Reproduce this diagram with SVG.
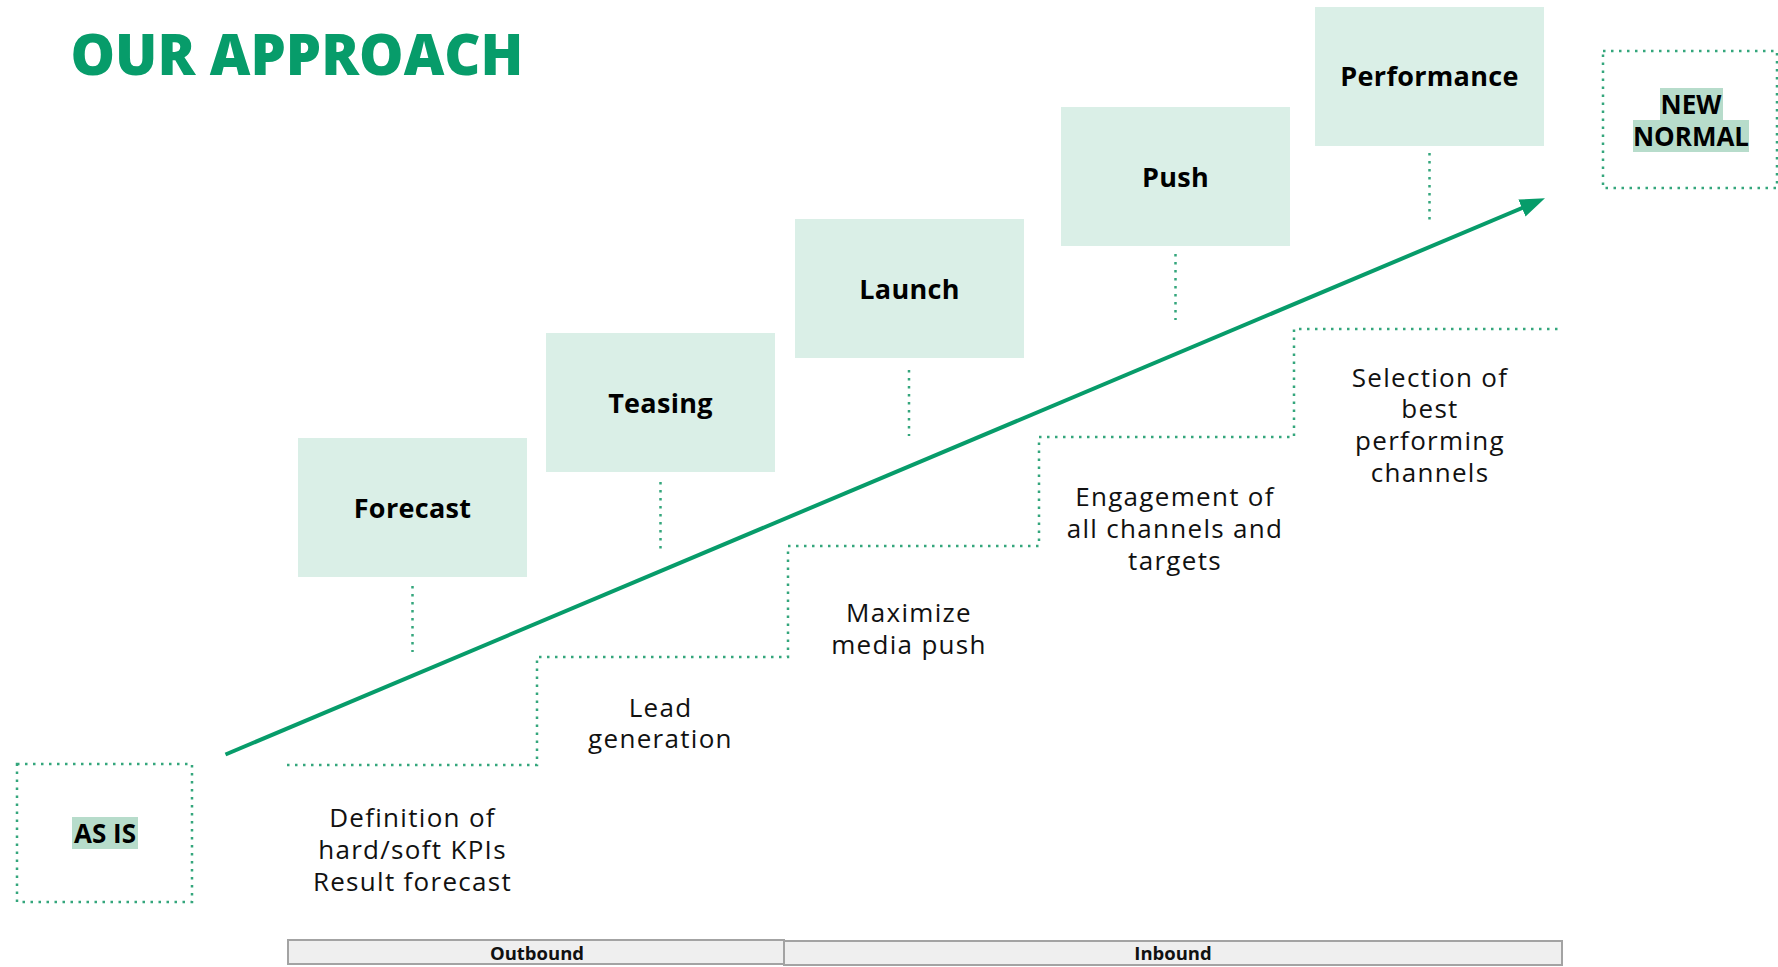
<svg xmlns="http://www.w3.org/2000/svg" width="1778" height="967" viewBox="0 0 1778 967">
  <style>
    .title { font-family: "Open Sans", "Liberation Sans", sans-serif; font-weight: 800; font-size: 57px; fill: #079c6a; }
    .stage { fill: #daefe7; }
    .stage-label { font-family: "Open Sans", "Liberation Sans", sans-serif; font-weight: 700; font-size: 27px; letter-spacing: 0.3px; fill: #000; text-anchor: middle; }
    .desc { font-family: "Open Sans", "Liberation Sans", sans-serif; font-weight: 400; font-size: 26px; letter-spacing: 1.3px; fill: #111; text-anchor: middle; }
    .dots { fill: none; stroke: #34a67c; stroke-width: 2.5; stroke-dasharray: 2.5 5.5; }
    .hl { fill: #b7dccb; }
    .state-label { font-family: "Open Sans", "Liberation Sans", sans-serif; font-weight: 700; font-size: 26px; fill: #000; text-anchor: middle; }
    .bar { fill: #efefef; stroke: #a3a3a3; stroke-width: 2; }
    .bar-label { font-family: "Open Sans", "Liberation Sans", sans-serif; font-weight: 700; font-size: 18.5px; fill: #111; text-anchor: middle; }
    .growth { stroke: #079c6a; stroke-width: 4; fill: none; }
  </style>
  <defs>
    <marker id="arrowhead" markerUnits="userSpaceOnUse" markerWidth="26" markerHeight="20" refX="13" refY="9.25" orient="auto">
      <path d="M0,0 L25,9.25 L0,18.5 z" fill="#079c6a"/>
    </marker>
  </defs>

  <rect width="1778" height="967" fill="#fff"/>

  <text class="title" x="70.5" y="75" textLength="453" lengthAdjust="spacingAndGlyphs">OUR APPROACH</text>

  <!-- start and end states -->
  <g id="as-is">
    <rect class="dots" x="17" y="764" width="175" height="138"/>
    <rect class="hl" x="72" y="817" width="66" height="32"/>
    <text class="state-label" x="105" y="843">AS IS</text>
  </g>
  <g id="new-normal">
    <rect class="dots" x="1603" y="51" width="174" height="137"/>
    <rect class="hl" x="1660" y="88" width="63" height="32"/>
    <rect class="hl" x="1633" y="120" width="116" height="32"/>
    <text class="state-label" x="1691" y="113.5">NEW</text>
    <text class="state-label" x="1691" y="145.5">NORMAL</text>
  </g>

  <!-- stages -->
  <g id="forecast">
    <rect class="stage" x="298" y="438" width="229" height="139"/>
    <text class="stage-label" x="412.5" y="517.5">Forecast</text>
    <text class="desc" x="412.5" y="827">Definition of</text>
    <text class="desc" x="412.5" y="859">hard/soft KPIs</text>
    <text class="desc" x="412.5" y="891">Result forecast</text>
  </g>
  <g id="teasing">
    <rect class="stage" x="546" y="333" width="229" height="139"/>
    <text class="stage-label" x="660.5" y="412.5">Teasing</text>
    <text class="desc" x="660.5" y="716.5">Lead</text>
    <text class="desc" x="660.5" y="748">generation</text>
  </g>
  <g id="launch">
    <rect class="stage" x="795" y="219" width="229" height="139"/>
    <text class="stage-label" x="909.5" y="298.5">Launch</text>
    <text class="desc" x="909" y="622">Maximize</text>
    <text class="desc" x="909" y="653.5">media push</text>
  </g>
  <g id="push">
    <rect class="stage" x="1061" y="107" width="229" height="139"/>
    <text class="stage-label" x="1175.5" y="186.5">Push</text>
    <text class="desc" x="1175" y="506">Engagement of</text>
    <text class="desc" x="1175" y="538">all channels and</text>
    <text class="desc" x="1175" y="570">targets</text>
  </g>
  <g id="performance">
    <rect class="stage" x="1315" y="7" width="229" height="139"/>
    <text class="stage-label" x="1429.5" y="86">Performance</text>
    <text class="desc" x="1430" y="386.5">Selection of</text>
    <text class="desc" x="1430" y="418">best</text>
    <text class="desc" x="1430" y="449.5">performing</text>
    <text class="desc" x="1430" y="481.5">channels</text>
  </g>

  <!-- phase bars -->
  <g id="outbound">
    <rect class="bar" x="288" y="940" width="496" height="24"/>
    <text class="bar-label" x="537" y="959.5">Outbound</text>
  </g>
  <g id="inbound">
    <rect class="bar" x="784" y="941" width="778" height="24"/>
    <text class="bar-label" x="1173" y="960">Inbound</text>
  </g>

  <g id="connectors">
    <!-- leaders under each stage box -->
    <line class="dots" x1="412.5" y1="586" x2="412.5" y2="652"/>
    <line class="dots" x1="660.5" y1="482" x2="660.5" y2="549"/>
    <line class="dots" x1="909" y1="370" x2="909" y2="436"/>
    <line class="dots" x1="1175.5" y1="254" x2="1175.5" y2="320"/>
    <line class="dots" x1="1429.5" y1="153" x2="1429.5" y2="220"/>
    <!-- staircase -->
    <path class="dots" d="M287,765 H537 V657 H788 V546 H1039 V437 H1294 V329 H1561"/>
    <!-- growth arrow -->
    <line class="growth" x1="225.5" y1="754.5" x2="1533.9" y2="203" marker-end="url(#arrowhead)"/>
  </g>
</svg>
